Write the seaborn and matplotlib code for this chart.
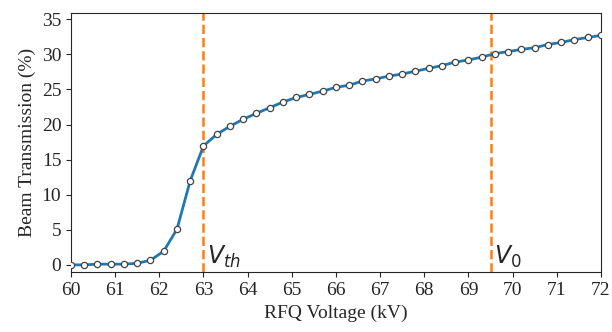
import matplotlib
matplotlib.use('Agg')
import matplotlib.pyplot as plt
import numpy as np
import pandas as pd
import seaborn as sns

# RFQ voltage scan (kV) and beam transmission (%)
voltage = [60.0, 60.3, 60.6, 60.9, 61.2, 61.5, 61.8, 62.1, 62.4, 62.7,
           63.0, 63.3, 63.6, 63.9, 64.2, 64.5, 64.8, 65.1, 65.4, 65.7,
           66.0, 66.3, 66.6, 66.9, 67.2, 67.5, 67.8, 68.1, 68.4, 68.7,
           69.0, 69.3, 69.6, 69.9, 70.2, 70.5, 70.8, 71.1, 71.4, 71.7, 72.0]
transmission = [0.0, 0.0, 0.1, 0.1, 0.1, 0.23, 0.66, 1.95, 5.1, 12.0,
                16.95, 18.6, 19.75, 20.75, 21.6, 22.4, 23.2, 23.85, 24.3, 24.76,
                25.3, 25.6, 26.2, 26.5, 26.9, 27.2, 27.6, 28.0, 28.4, 28.9,
                29.2, 29.6, 30.1, 30.4, 30.7, 30.95, 31.4, 31.7, 32.1, 32.4, 32.7]
v_th = 63.0
v_0 = 69.5

df = pd.DataFrame({'voltage': voltage, 'transmission': transmission})

sns.set_style('ticks')
plt.rcParams['font.family'] = ['Liberation Serif', 'DejaVu Serif']
plt.rcParams['mathtext.fontset'] = 'dejavusans'

fig, ax = plt.subplots(figsize=(6.12, 3.32), dpi=100)
sns.lineplot(data=df, x='voltage', y='transmission', color='tab:blue', lw=2,
             marker='o', markersize=4.5, markerfacecolor='white',
             markeredgecolor='#444444', markeredgewidth=0.9, ax=ax, zorder=3)
ax.axvline(v_th, color='tab:orange', ls='--', lw=1.8, zorder=2)
ax.axvline(v_0, color='tab:orange', ls='--', lw=1.8, zorder=2)
ax.text(v_th + 0.08, 0.2, '$V_{th}$', fontsize=17, family='DejaVu Sans')
ax.text(v_0 + 0.08, 0.2, '$V_0$', fontsize=17, family='DejaVu Sans')

ax.set_xlim(60, 72)
ax.set_ylim(-1.05, 35.85)
ax.set_xticks(np.arange(60, 73, 1))
ax.set_yticks(np.arange(0, 36, 5))
ax.tick_params(labelsize=14)
ax.set_xlabel('RFQ Voltage (kV)', fontsize=14)
ax.set_ylabel('Beam Transmission (%)', fontsize=14)

fig.subplots_adjust(left=0.116, right=0.982, top=0.96, bottom=0.18)
fig.savefig('out.png', dpi=100)
